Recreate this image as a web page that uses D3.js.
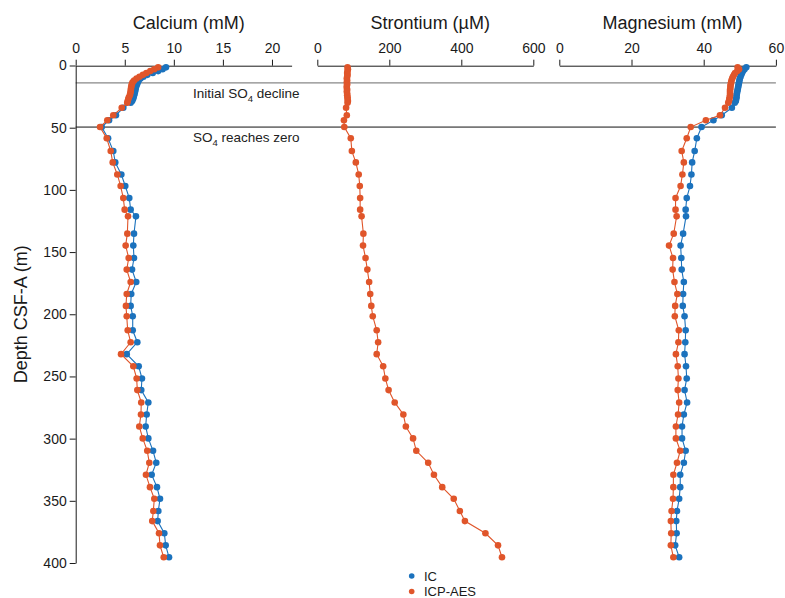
<!DOCTYPE html>
<html>
<head>
<meta charset="utf-8">
<script src="https://cdn.jsdelivr.net/npm/d3@7"></script>
<style>
  body { margin: 0; background: #fff; }
  svg { display: block; font-family: "Liberation Sans", Arial, sans-serif; }
</style>
</head>
<body>
<svg id="chart" width="785" height="598"></svg>
<script>
// Pore-water profiles: depth (m CSF-A) with IC and ICP-AES measurements
const depth = [1.5, 3, 4.5, 6, 7.5, 9, 10.5, 12, 13.5, 15, 16.5, 18, 19.5, 21, 22.5, 24, 25.5, 27, 28.5, 30,
  34, 40, 44, 49.5, 58.5,
  68.8, 77.9, 87.6, 96.9, 106.6, 115.9, 121.3, 135.2, 144.8, 154.8, 164.1, 174.1, 183.7, 193.3, 201.6,
  212.9, 222.5, 232.1, 241.8, 251.6, 261.0, 270.9, 280.6, 290.2, 299.8, 309.8, 319.4, 329.1, 339.0,
  348.4, 358.2, 366.3, 376.1, 385.8, 395.4];

const calciumIC = [9.2, 8.85, 8.4, 7.85, 7.3, 6.9, 6.6, 6.42, 6.32, 6.25, 6.18, 6.12, 6.08, 6.05, 6.0, 5.95, 5.9, 5.84, 5.75, 5.6,
  4.85, 4.1, 3.4, 2.65, 3.3,
  3.83, 4.03, 4.65, 5.05, 5.46, 5.60, 6.14, 5.94, 5.87, 5.94, 5.74, 6.17, 5.66, 5.60, 5.81,
  5.81, 6.28, 5.20, 6.42, 6.75, 6.68, 7.40, 7.23, 7.13, 7.40, 7.88, 8.21, 7.74, 8.28,
  8.59, 8.42, 8.35, 9.03, 9.17, 9.51];

const calciumICP = [8.4, 8.0, 7.6, 7.2, 6.85, 6.5, 6.2, 5.95, 5.8, 5.72, 5.68, 5.64, 5.62, 5.6, 5.56, 5.52, 5.42, 5.36, 5.3, 5.25,
  4.69, 3.83, 3.22, 2.48, 3.16,
  3.57, 3.77, 4.24, 4.58, 4.85, 4.99, 5.33, 5.26, 5.09, 5.40, 5.20, 5.60, 5.20, 5.12, 5.20,
  5.30, 5.60, 4.62, 5.87, 6.21, 6.28, 6.68, 6.65, 6.48, 6.83, 7.29, 7.50, 7.16, 7.57,
  8.01, 7.91, 7.80, 8.49, 8.59, 8.97];

const strontiumICP = [84, 85, 84, 83, 84, 83, 82, 83, 82, 83, 82, 82, 83, 82, 83, 83, 84, 84, 85, 84,
  80, 82, 74, 75, 93,
  96, 107, 115, 118, 119, 119, 123, 128, 127, 134, 139, 144, 147, 150, 154,
  165, 169, 165, 183, 189, 198, 215, 239, 246, 266, 275, 308, 324, 347,
  379, 396, 410, 467, 502, 513];

const magnesiumIC = [51.8, 51.3, 50.9, 50.6, 50.4, 50.2, 50.0, 49.9, 49.8, 49.7, 49.6, 49.5, 49.4, 49.3, 49.2, 49.1, 49.1, 49.0, 48.9, 48.6,
  47.8, 45.0, 42.7, 39.4, 38.1,
  37.5, 36.8, 36.6, 36.2, 35.3, 35.0, 35.1, 34.3, 33.6, 33.8, 33.9, 34.5, 34.3, 34.2, 34.7,
  35.0, 34.9, 34.7, 35.1, 35.3, 34.7, 35.4, 34.5, 34.0, 34.0, 35.0, 34.5, 33.5, 33.5,
  33.2, 32.6, 32.4, 32.5, 32.1, 33.2];

const magnesiumICP = [49.4, 49.8, 49.3, 48.7, 48.4, 48.1, 47.9, 47.7, 47.6, 47.5, 47.4, 47.4, 47.3, 47.3, 47.3, 47.3, 47.2, 47.1, 47.0, 46.8,
  45.9, 44.5, 40.6, 36.4, 35.3,
  33.9, 34.5, 34.1, 33.6, 32.2, 32.2, 32.5, 31.7, 30.4, 31.5, 31.4, 31.9, 32.7, 32.1, 32.0,
  33.1, 33.0, 32.3, 32.8, 33.0, 32.8, 33.2, 32.9, 32.3, 32.3, 33.5, 32.6, 31.6, 31.6,
  31.5, 31.1, 30.9, 31.0, 30.9, 31.6];

const depthTicks = [0, 50, 100, 150, 200, 250, 300, 350, 400];
const calciumTicks = [0, 5, 10, 15, 20];
const strontiumTicks = [0, 200, 400, 600];
const magnesiumTicks = [0, 20, 40, 60];

const markers = [
  { depth: 14, label: "Initial SO", sub: "4", tail: " decline", stroke: "#6a6a6a" },
  { depth: 49.5, label: "SO", sub: "4", tail: " reaches zero", stroke: "#111" }
];
const legendItems = ["IC", "ICP-AES"];

const colIC = "#1b72bd";
const colICP = "#e0552a";

const svg = d3.select("#chart");
const y = d3.scaleLinear().domain([0, 400]).range([65.5, 563]);

const panels = [
  { title: "Calcium (mM)", x: d3.scaleLinear().domain([0, 22]).range([75.7, 291.6]), ticks: calciumTicks,
    series: [{ v: calciumIC, c: colIC }, { v: calciumICP, c: colICP }] },
  { title: "Strontium (\u00B5M)", x: d3.scaleLinear().domain([0, 600]).range([317.3, 533.3]), ticks: strontiumTicks,
    series: [{ v: strontiumICP, c: colICP }] },
  { title: "Magnesium (mM)", x: d3.scaleLinear().domain([0, 60]).range([559.3, 775.9]), ticks: magnesiumTicks,
    series: [{ v: magnesiumIC, c: colIC }, { v: magnesiumICP, c: colICP }] }
];

// Horizontal reference lines for sulfate zones
markers.forEach(m => {
  svg.append("line")
    .attr("x1", 75.7).attr("x2", 775.9)
    .attr("y1", y(m.depth)).attr("y2", y(m.depth))
    .attr("stroke", m.stroke).attr("stroke-width", 1);
  const t = svg.append("text")
    .attr("x", 193).attr("y", y(m.depth) + 15)
    .attr("font-size", 13.5).attr("fill", "#222");
  t.append("tspan").text(m.label);
  t.append("tspan").attr("font-size", 9.5).attr("dy", 4).text(m.sub);
  t.append("tspan").attr("dy", -4).text(m.tail);
});

// Depth axis
const yAxis = svg.append("g")
  .attr("transform", "translate(75.7,0)")
  .call(d3.axisLeft(y).tickValues(depthTicks).tickSize(6).tickSizeOuter(0).tickPadding(3));
yAxis.selectAll("text").attr("font-size", 14).attr("fill", "#1a1a1a").attr("font-family", null);
yAxis.selectAll("line,path").attr("stroke", "#1a1a1a");

svg.append("text")
  .attr("transform", `translate(27,${y(200)}) rotate(-90)`)
  .attr("text-anchor", "middle")
  .attr("font-size", 18).attr("fill", "#1a1a1a")
  .text("Depth CSF-A (m)");

const line = d3.line();

panels.forEach(p => {
  const ax = svg.append("g")
    .attr("transform", "translate(0,65.7)")
    .call(d3.axisTop(p.x).tickValues(p.ticks).tickSize(6).tickSizeOuter(0).tickPadding(7));
  ax.selectAll("text").attr("font-size", 14).attr("fill", "#1a1a1a").attr("font-family", null);
  ax.selectAll("line,path").attr("stroke", "#1a1a1a");

  const [r0, r1] = p.x.range();
  svg.append("text")
    .attr("x", (r0 + r1) / 2 + 5).attr("y", 29)
    .attr("text-anchor", "middle")
    .attr("font-size", 18).attr("fill", "#1a1a1a")
    .text(p.title);

  p.series.forEach(s => {
    const pts = depth.map((d, i) => [p.x(s.v[i]), y(d)]);
    svg.append("path")
      .attr("d", line(pts))
      .attr("fill", "none")
      .attr("stroke", s.c).attr("stroke-width", 1.1);
    svg.append("g").selectAll("circle")
      .data(pts).join("circle")
      .attr("cx", d => d[0]).attr("cy", d => d[1])
      .attr("r", 3.3).attr("fill", s.c);
  });
});

// Legend
const lg = svg.append("g");
legendItems.forEach((name, i) => {
  lg.append("circle").attr("cx", 411.7).attr("cy", 576 + i * 15.5).attr("r", 2.8)
    .attr("fill", i === 0 ? colIC : colICP);
  lg.append("text").attr("x", 424).attr("y", 580.5 + i * 15.5)
    .attr("font-size", 13).attr("fill", "#1a1a1a").text(name);
});
</script>
</body>
</html>
